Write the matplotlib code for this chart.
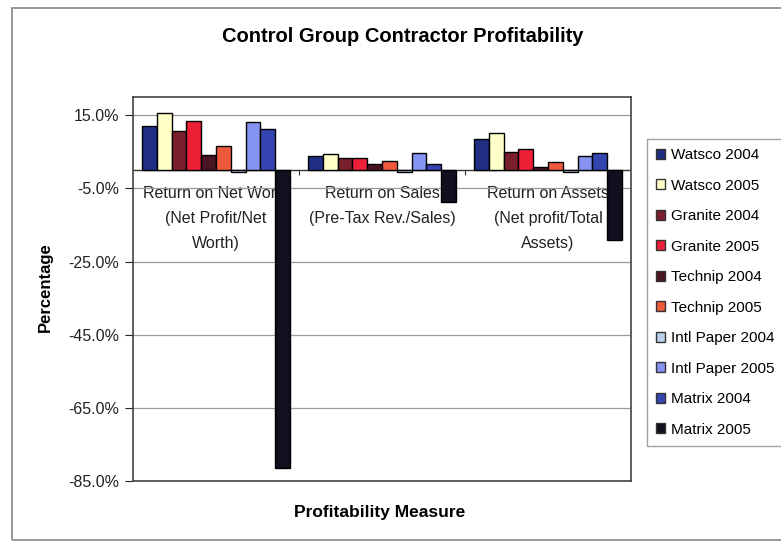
import numpy as np
import matplotlib.pyplot as plt
from matplotlib.patches import Patch, Rectangle
from matplotlib.ticker import FuncFormatter

plt.rcParams['font.family'] = ['Liberation Sans', 'DejaVu Sans']

# Data (percent)
measures = ['Return on Net Worth\n(Net Profit/Net\nWorth)',
            'Return on Sales\n(Pre-Tax Rev./Sales)',
            'Return on Assets\n(Net profit/Total\nAssets)']
series = ['Watsco 2004', 'Watsco 2005', 'Granite 2004', 'Granite 2005',
          'Technip 2004', 'Technip 2005', 'Intl Paper 2004', 'Intl Paper 2005',
          'Matrix 2004', 'Matrix 2005']
watsco_2004 = [12.0, 3.9, 8.4]
watsco_2005 = [15.6, 4.3, 10.2]
granite_2004 = [10.6, 3.2, 4.9]
granite_2005 = [13.5, 3.4, 5.9]
technip_2004 = [4.1, 1.8, 0.9]
technip_2005 = [6.7, 2.6, 2.2]
intl_paper_2004 = [-0.5, -0.5, -0.5]
intl_paper_2005 = [13.2, 4.7, 4.0]
matrix_2004 = [11.2, 1.8, 4.7]
matrix_2005 = [-81.5, -8.8, -19.0]
values = [watsco_2004, watsco_2005, granite_2004, granite_2005, technip_2004,
          technip_2005, intl_paper_2004, intl_paper_2005, matrix_2004, matrix_2005]
colors = ['#1f2d82', '#ffffc8', '#7a1f2c', '#ee2038', '#4a1422',
          '#f05a3c', '#b8d0ec', '#8494f0', '#3444b0', '#10101e']

fig = plt.figure(figsize=(7.81, 5.44), dpi=100)
ax = fig.add_axes([133 / 781, 63 / 544, 498 / 781, 384 / 544])

x = np.arange(len(measures))
n = len(series)
w = 0.89 / n
for i, (name, vals, c) in enumerate(zip(series, values, colors)):
    ax.bar(x - 0.445 + w * (i + 0.5), vals, width=w, color=c,
           edgecolor='black', linewidth=1.0, label=name, zorder=3)

ax.set_xlim(-0.5, 2.5)
ax.set_ylim(-85, 20)
ax.set_yticks(np.arange(-85, 16, 20))
ax.yaxis.set_major_formatter(FuncFormatter(lambda v, p: f'{v:.1f}%'))
ax.tick_params(axis='y', labelsize=11.5, length=6, pad=4, colors='#222222')
ax.set_xticks([])
ax.grid(axis='y', color='#9a9a9a', linewidth=0.9, zorder=0)
ax.axhline(0, color='#333333', linewidth=1.0, zorder=2)
ax.vlines([0.5, 1.5], -1.3, 0, color='#333333', linewidth=0.8, zorder=2)
for s in ax.spines.values():
    s.set_color('#444444')
    s.set_linewidth(1.2)

# category labels sit under the zero line
for xi, lab in zip(x, measures):
    ax.text(xi, -4.3, lab, ha='center', va='top', fontsize=11.5,
            linespacing=1.85, color='#222222', zorder=1)

fig.text(45 / 781, 1 - 287 / 544, 'Percentage', rotation=90,
         ha='center', va='center', fontsize=12, fontweight='bold')
fig.text(403 / 781, 1 - 37 / 544, 'Control Group Contractor Profitability',
         ha='center', va='center', fontsize=14.5, fontweight='bold')
fig.text(380 / 781, 1 - 512 / 544, 'Profitability Measure',
         ha='center', va='center', fontsize=12.5, fontweight='bold')

handles = [Patch(facecolor=c, edgecolor='#333333', linewidth=1.0) for c in colors]
leg = fig.legend(handles, series, loc='upper left',
                 bbox_to_anchor=(647 / 781, 1 - 139 / 544), fontsize=11.0,
                 frameon=True, fancybox=False, handlelength=0.6, handleheight=0.6,
                 handletextpad=0.35, labelspacing=1.08, borderpad=0.6,
                 borderaxespad=0)
leg.get_frame().set_edgecolor('#888888')
leg.get_frame().set_linewidth(1.0)

fig.patches.append(Rectangle((12 / 781, 4 / 544), 1.0, 1 - 12 / 544,
                             transform=fig.transFigure, fill=False,
                             edgecolor='#888888', linewidth=1.2))

fig.savefig('out.png', dpi=100)
